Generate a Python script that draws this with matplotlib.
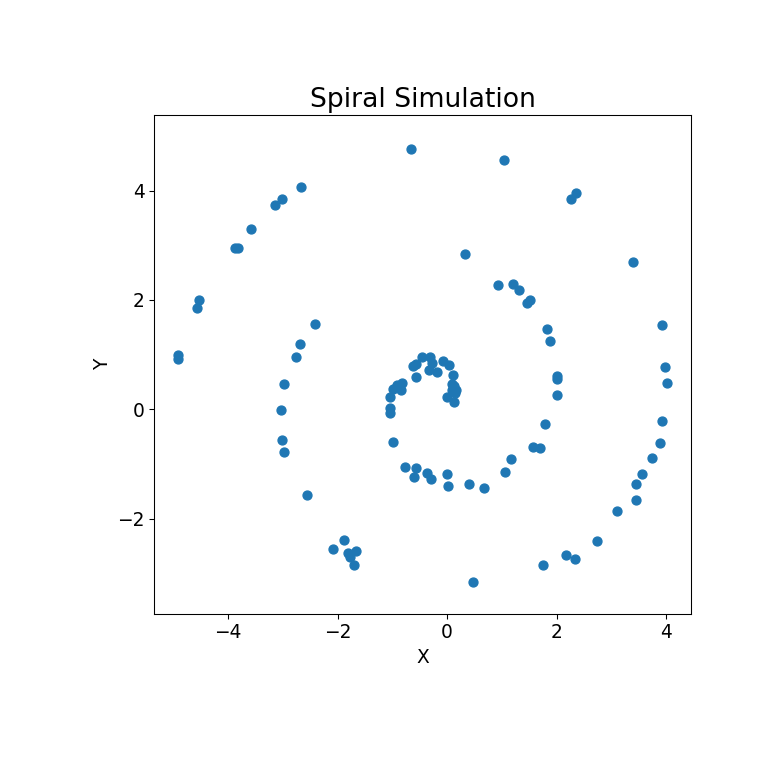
import numpy as np
import matplotlib
matplotlib.use('Agg')
import matplotlib.pyplot as plt

# spiral points (inner turn first, then outer turn)
x_vals = [0.13, -0.01, 0.15, 0.16, 0.08, 0.12, 0.09, 0.10,
          0.03, -0.07, -0.18, -0.33, -0.28, -0.31, -0.465, -0.56, -0.62,
          -0.56, -0.82, -0.92, -0.84, -0.98, -1.04, -1.04, -1.04,
          -0.98, -0.77, -0.56, -0.61, -0.36, -0.30, 0.0, 0.02,
          0.40, 0.68, 1.06, 1.17, 1.57, 1.70, 1.79,
          2.0, 2.0, 2.0, 1.88, 1.82, 1.52, 1.456, 1.31, 1.206, 0.927, 0.33,
          -2.41, -2.68, -2.75, -2.97, -3.03, -3.01, -2.97, -2.56,
          -1.885, -2.08, -1.805, -1.664, -1.78, -1.70, 0.48,
          1.75, 2.17, 2.33, 2.74, 3.10, 3.45, 3.45, 3.56, 3.74, 3.88, 3.925,
          4.02, 3.98, 3.925, 3.40, 2.35, 2.265, 1.04, -0.655,
          -2.66, -3.01, -3.14, -3.58, -3.88, -3.82, -4.52, -4.57, -4.91, -4.91]
y_vals = [0.13, 0.22, 0.30, 0.36, 0.36, 0.42, 0.47, 0.62,
          0.82, 0.89, 0.68, 0.72, 0.85, 0.95, 0.95, 0.83, 0.79,
          0.585, 0.49, 0.44, 0.35, 0.38, 0.22, 0.02, -0.07,
          -0.60, -1.06, -1.07, -1.23, -1.17, -1.28, -1.19, -1.40,
          -1.37, -1.43, -1.15, -0.915, -0.68, -0.71, -0.275,
          0.27, 0.555, 0.61, 1.255, 1.46, 2.0, 1.94, 2.18, 2.286, 2.27, 2.835,
          1.555, 1.19, 0.95, 0.457, -0.013, -0.567, -0.775, -1.573,
          -2.396, -2.555, -2.616, -2.59, -2.70, -2.85, -3.15,
          -2.85, -2.67, -2.73, -2.40, -1.85, -1.66, -1.366, -1.19, -0.88, -0.62, -0.22,
          0.476, 0.78, 1.536, 2.69, 3.95, 3.84, 4.56, 4.756,
          4.06, 3.84, 3.73, 3.29, 2.945, 2.945, 2.0, 1.86, 0.99, 0.92]

fig = plt.figure(figsize=(8, 8), dpi=96)
ax = fig.add_axes([154/768, 154/768, 537/768, 499/768])
ax.scatter(x_vals, y_vals, s=45, color='#1f77b4')
ax.set_xlim(-5.35, 4.45)
ax.set_ylim(-3.74, 5.38)
ax.set_xticks([-4, -2, 0, 2, 4])
ax.set_yticks([-2, 0, 2, 4])
ax.tick_params(labelsize=14)
ax.set_xlabel('X', fontsize=14)
ax.set_ylabel('Y', fontsize=14)
ax.set_title('Spiral Simulation', fontsize=20)

fig.savefig('out.png', dpi=96)
